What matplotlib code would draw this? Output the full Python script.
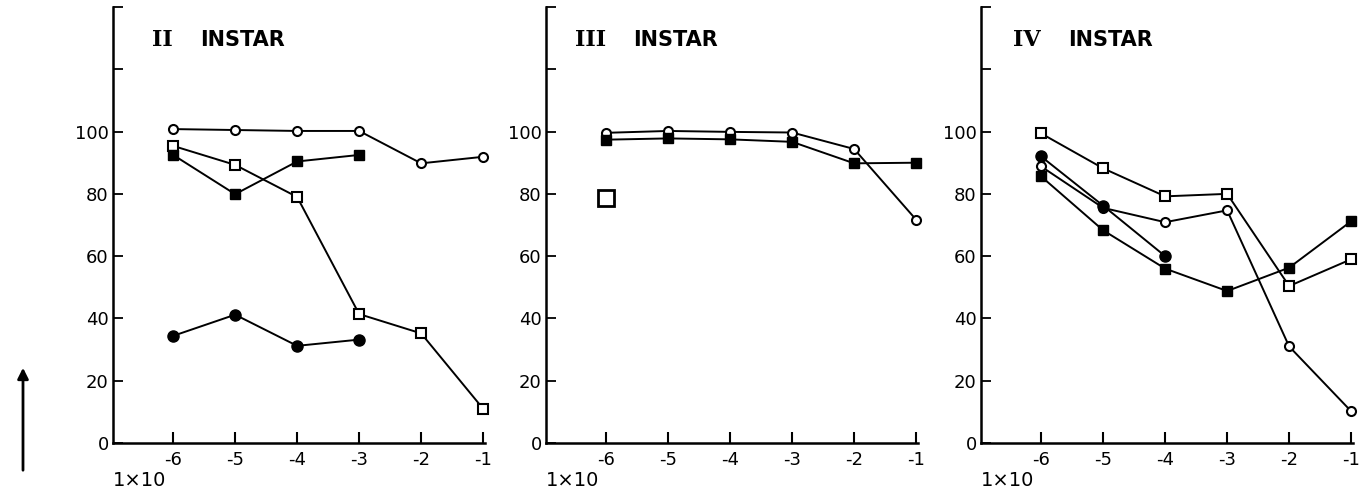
import matplotlib.pyplot as plt

# concentration exponents (1x10^n)
conc = [-6, -5, -4, -3, -2, -1]

# II instar
ii_open_circle = [100.8, 100.5, 100.2, 100.2, 89.8, 91.9]
ii_open_square = [95.4, 89.3, 79.0, 41.4, 35.2, 11.0]
ii_filled_square = [92.5, 79.9, 90.4, 92.5]
ii_filled_circle = [34.4, 41.2, 31.2, 33.2]

# III instar
iii_open_circle = [99.6, 100.2, 99.9, 99.7, 94.4, 71.7]
iii_filled_square = [97.4, 97.8, 97.5, 96.7, 89.8, 90.0]
iii_lone_square = [78.7]

# IV instar
iv_open_square = [99.4, 88.2, 79.2, 80.0, 50.4, 59.0]
iv_open_circle = [88.8, 75.5, 70.9, 74.7, 31.0, 10.2]
iv_filled_circle = [92.0, 76.2, 60.0]
iv_filled_square = [85.6, 68.3, 56.0, 48.8, 56.3, 71.2]

numerals = ["II", "III", "IV"]
y_ticks = [0, 20, 40, 60, 80, 100, 120, 140]
y_labels = ["0", "20", "40", "60", "80", "100", "", ""]
x_labels = ["-6", "-5", "-4", "-3", "-2", "-1"]

LW = 1.4
OPEN_C = dict(marker="o", ms=6.5, mfc="white", mec="black", mew=1.5)
OPEN_S = dict(marker="s", ms=6.5, mfc="white", mec="black", mew=1.5)
FILL_C = dict(marker="o", ms=8, mfc="black", mec="black")
FILL_S = dict(marker="s", ms=7, mfc="black", mec="black")


def series(ax, y, style):
    ax.plot(conc[:len(y)], y, color="black", lw=LW, clip_on=False, **style)


fig = plt.figure(figsize=(13.65, 4.97), dpi=100)
lefts = [113 / 1365, 546 / 1365, 981 / 1365]
axes = [fig.add_axes([l, 54 / 497, 372 / 1365, 436 / 497]) for l in lefts]

series(axes[0], ii_open_circle, OPEN_C)
series(axes[0], ii_open_square, OPEN_S)
series(axes[0], ii_filled_square, FILL_S)
series(axes[0], ii_filled_circle, FILL_C)

series(axes[1], iii_open_circle, OPEN_C)
series(axes[1], iii_filled_square, FILL_S)
axes[1].plot(conc[:1], iii_lone_square, ls="none", marker="s", ms=11,
             mfc="white", mec="black", mew=2)

series(axes[2], iv_open_square, OPEN_S)
series(axes[2], iv_open_circle, OPEN_C)
series(axes[2], iv_filled_circle, FILL_C)
series(axes[2], iv_filled_square, FILL_S)

for ax, num in zip(axes, numerals):
    ax.set_xlim(-6.97, -0.97)
    ax.set_ylim(0, 140)
    for side in ("top", "right"):
        ax.spines[side].set_visible(False)
    for side in ("left", "bottom"):
        ax.spines[side].set_linewidth(1.8)
    ax.set_yticks(y_ticks)
    ax.set_yticklabels(y_labels)
    ax.set_xticks(conc)
    ax.set_xticklabels(x_labels)
    ax.tick_params(axis="y", direction="in", length=7, width=1.3, pad=3,
                   labelsize=13)
    ax.tick_params(axis="x", direction="in", length=8, width=1.5, pad=6,
                   labelsize=13)
    ax.text(-6.0, 129.5, num, ha="right", va="center", fontsize=16,
            fontweight="bold", family="DejaVu Serif")
    ax.text(-5.57, 129.5, "INSTAR", ha="left", va="center", fontsize=15,
            fontweight="bold")
    ax.text(0.0, -0.085, "1\u00d710", transform=ax.transAxes, ha="left",
            va="center", fontsize=14)

# upward arrow at the left margin
fig.patches.append(plt.matplotlib.patches.FancyArrowPatch(
    (23 / 1365, 1 - 473 / 497), (23 / 1365, 1 - 365 / 497),
    transform=fig.transFigure, arrowstyle="-|>", mutation_scale=16,
    lw=2, color="black"))

fig.savefig("out.png", dpi=100)
